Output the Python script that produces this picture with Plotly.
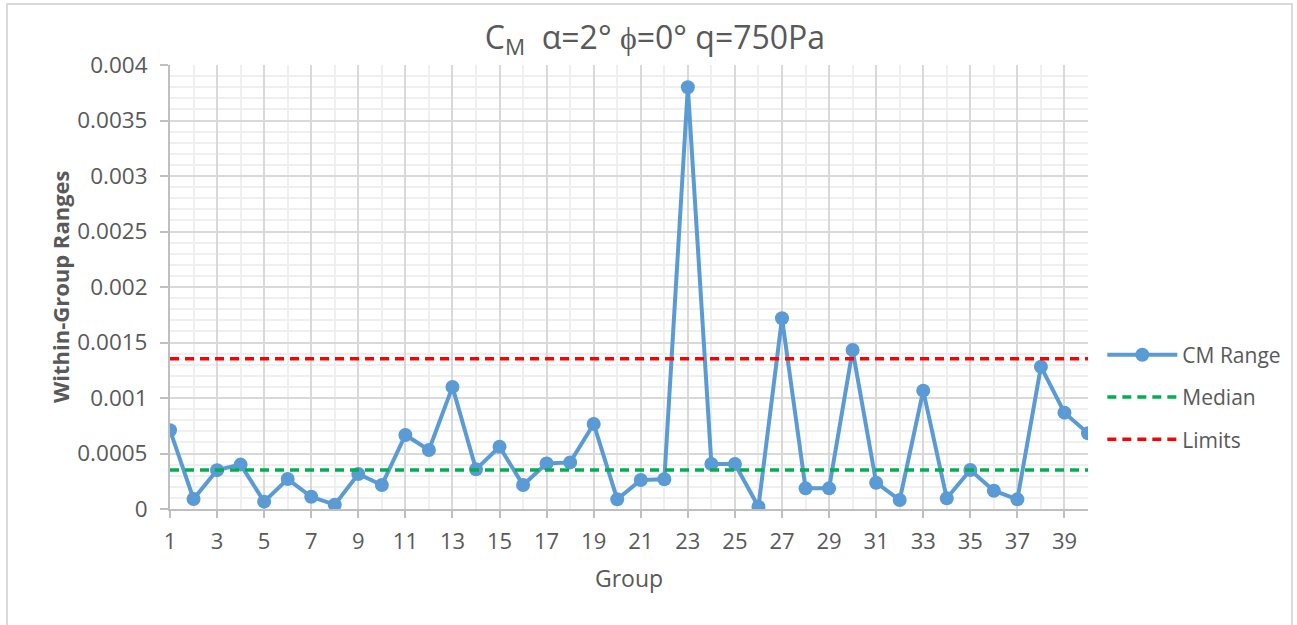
import plotly.graph_objects as go

# Within-group ranges of the pitching-moment coefficient, one value per group
groups = list(range(1, 41))
cm_range = [
    0.00071, 0.00009, 0.00035, 0.00040, 0.000066, 0.00027, 0.00011, 0.000039,
    0.000315, 0.000216, 0.000667, 0.000532, 0.00110, 0.000357, 0.000561, 0.000216,
    0.000411, 0.00042, 0.000766, 0.000087, 0.000261, 0.000268, 0.00380, 0.000405,
    0.000405, 0.00002, 0.001718, 0.000186, 0.000186, 0.001432, 0.000237, 0.000081,
    0.001066, 0.000096, 0.000351, 0.000165, 0.000087, 0.001282, 0.000868, 0.000682,
]
median_value = 0.000351
limit_value = 0.001354

y_tickvals = [0, 0.0005, 0.001, 0.0015, 0.002, 0.0025, 0.003, 0.0035, 0.004]
y_ticktext = ["0", "0.0005", "0.001", "0.0015", "0.002", "0.0025", "0.003", "0.0035", "0.004"]
x_tickvals = list(range(1, 40, 2))
x_ticktext = [str(v) for v in x_tickvals]

FONT = "Open Sans"
GREY = "#595959"

fig = go.Figure()

fig.add_trace(go.Scatter(
    x=groups, y=cm_range, name="CM Range", mode="lines+markers",
    line=dict(color="#5B9BD5", width=4),
    marker=dict(color="#5B9BD5", size=14),
    legendgroup="a",
))
fig.add_trace(go.Scatter(
    x=groups, y=[median_value] * len(groups), name="Median", mode="lines",
    line=dict(color="#00B050", width=3.5, dash="9px,6px"),
    legendgroup="b",
))
fig.add_trace(go.Scatter(
    x=groups, y=[limit_value] * len(groups), name="Limits", mode="lines",
    line=dict(color="#FF0000", width=3.5, dash="9px,6px"),
    legendgroup="c",
))

fig.update_layout(
    width=1297, height=625,
    margin=dict(l=170, r=209, t=65, b=116, autoexpand=False),
    paper_bgcolor="white", plot_bgcolor="white",
    font=dict(family=FONT, color=GREY, size=22),
    title=dict(
        text="C<sub>M</sub>  α=2° ϕ=0° q=750Pa",
        x=0.505, xanchor="center", xref="container",
        y=0.94, yanchor="middle",
        font=dict(size=32, color=GREY, family=FONT),
    ),
    showlegend=True,
    legend=dict(
        x=1.0156, xanchor="left", y=0.252, yanchor="middle",
        font=dict(size=21, color=GREY, family=FONT),
        itemwidth=70,
        tracegroupgap=12, bgcolor="rgba(0,0,0,0)",
    ),
    xaxis=dict(
        range=[1, 40], tickmode="array", tickvals=x_tickvals, ticktext=x_ticktext,
        showgrid=True, gridcolor="#D9D9D9", gridwidth=1.5,
        minor=dict(dtick=1, tick0=0, showgrid=True, gridcolor="#EFEFEF", gridwidth=1.5),
        showline=True, linecolor="#BFBFBF", linewidth=2,
        ticks="outside", ticklen=7, tickcolor="#BFBFBF", tickwidth=1.5,
        ticklabelstandoff=5, tickfont=dict(size=22),
        zeroline=False, fixedrange=True,
    ),
    yaxis=dict(
        range=[0, 0.004], tickmode="array", tickvals=y_tickvals, ticktext=y_ticktext,
        showgrid=True, gridcolor="#D9D9D9", gridwidth=1.5,
        minor=dict(dtick=0.0001, tick0=0, showgrid=True, gridcolor="#EFEFEF", gridwidth=1.5),
        showline=True, linecolor="#BFBFBF", linewidth=2,
        ticks="outside", ticklen=8, tickcolor="#BFBFBF", tickwidth=1.5,
        ticklabelstandoff=8, tickfont=dict(size=22.5),
        zeroline=False, fixedrange=True,
    ),
    annotations=[
        dict(text="<b>Within-Group Ranges</b>", textangle=-90,
             xref="paper", yref="paper", x=-0.1198, y=0.5, xanchor="center", yanchor="middle",
             showarrow=False, font=dict(size=22, color=GREY, family=FONT)),
        dict(text="Group", xref="paper", yref="paper", x=0.5, y=-0.1565,
             xanchor="center", yanchor="middle", showarrow=False,
             font=dict(size=23, color=GREY, family=FONT)),
    ],
    shapes=[
        dict(type="rect", xref="paper", yref="paper",
             x0=-0.1776, x1=1.2222, y0=-0.28, y1=1.1374,
             line=dict(color="#D9D9D9", width=2), fillcolor="rgba(0,0,0,0)", layer="below"),
    ],
)

fig.write_html("out.html")
